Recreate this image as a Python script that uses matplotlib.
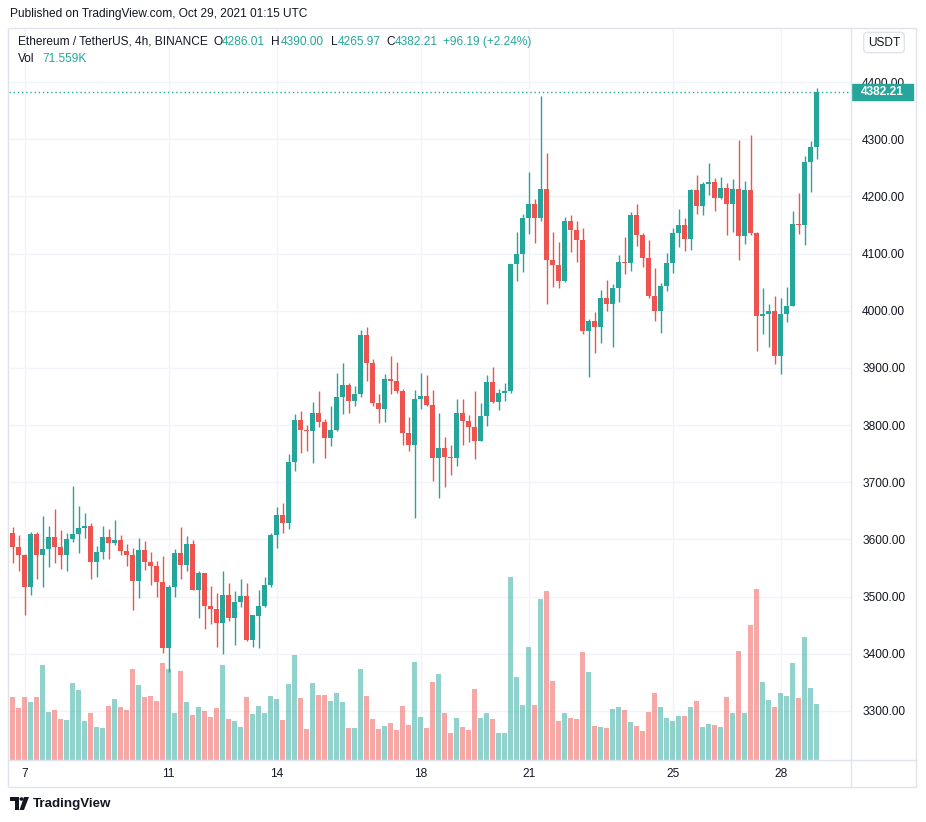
import numpy as np
import matplotlib
matplotlib.use('Agg')
import matplotlib.pyplot as plt
from matplotlib.patches import Rectangle, Polygon, Circle
from matplotlib.lines import Line2D
import matplotlib.transforms as mtransforms

plt.rcParams['font.family'] = ['Liberation Sans', 'DejaVu Sans']

# ---------------- data (ETH/USDT 4h, BINANCE) ----------------
opens = [3611, 3586, 3572, 3517, 3610, 3573, 3583, 3604, 3586, 3572, 3601, 3610, 3620, 3624, 3561, 3578,
         3604, 3594, 3599, 3580, 3572, 3528, 3582, 3561, 3554, 3526, 3411, 3517, 3576, 3556, 3592, 3512,
         3541, 3484, 3479, 3454, 3503, 3463, 3491, 3501, 3425, 3467, 3484, 3520, 3607, 3643, 3629, 3736,
         3809, 3791, 3790, 3822, 3805, 3778, 3791, 3850, 3870, 3843, 3854, 3958, 3908, 3838, 3829, 3880,
         3877, 3859, 3787, 3766, 3846, 3851, 3836, 3743, 3760, 3745, 3743, 3822, 3808, 3796, 3773, 3816,
         3876, 3841, 3857, 3860, 4081, 4100, 4162, 4187, 4162, 4213, 4089, 4080, 4052, 4157, 4141, 4124,
         3964, 3982, 3971, 4023, 4012, 4039, 4086, 4083, 4167, 4132, 4092, 4026, 3999, 4043, 4083, 4136,
         4150, 4125, 4211, 4184, 4222, 4225, 4198, 4215, 4187, 4213, 4131, 4211, 4136, 3991, 3994, 3999,
         3920, 3995, 4009, 4151, 4150, 4260, 4286.01]
highs = [3622, 3608, 3575, 3613, 3613, 3641, 3624, 3653, 3617, 3611, 3694, 3659, 3646, 3629, 3589, 3624,
         3618, 3634, 3608, 3592, 3585, 3603, 3597, 3578, 3562, 3571, 3520, 3583, 3622, 3606, 3599, 3545,
         3542, 3519, 3506, 3545, 3524, 3510, 3531, 3524, 3468, 3512, 3534, 3611, 3657, 3664, 3750, 3820,
         3825, 3800, 3841, 3860, 3810, 3834, 3892, 3909, 3874, 3869, 3967, 3972, 3916, 3855, 3890, 3920,
         3911, 3864, 3815, 3862, 3892, 3887, 3861, 3822, 3780, 3766, 3846, 3845, 3818, 3859, 3839, 3887,
         3901, 3863, 3873, 4082, 4137, 4170, 4243, 4196, 4375, 4276, 4137, 4120, 4164, 4167, 4157, 4144,
         3985, 3997, 4037, 4053, 4046, 4097, 4129, 4172, 4186, 4136, 4123, 4074, 4048, 4101, 4144, 4178,
         4162, 4213, 4237, 4225, 4258, 4232, 4234, 4223, 4230, 4298, 4227, 4308, 4138, 4039, 4011, 4025,
         4022, 4041, 4174, 4206, 4271, 4296, 4390.00]
lows = [3558, 3545, 3468, 3502, 3531, 3517, 3552, 3558, 3549, 3544, 3596, 3577, 3603, 3530, 3535, 3566,
        3566, 3591, 3573, 3554, 3477, 3498, 3547, 3521, 3500, 3402, 3369, 3500, 3530, 3545, 3512, 3463,
        3444, 3453, 3412, 3400, 3458, 3416, 3482, 3423, 3412, 3411, 3482, 3517, 3585, 3612, 3619, 3719,
        3752, 3754, 3733, 3796, 3743, 3764, 3789, 3820, 3822, 3833, 3850, 3877, 3833, 3803, 3805, 3854,
        3857, 3766, 3755, 3638, 3829, 3833, 3703, 3673, 3692, 3712, 3729, 3766, 3770, 3740, 3773, 3798,
        3839, 3826, 3843, 3857, 4052, 4067, 4134, 4118, 4157, 4012, 4041, 4040, 4050, 4103, 4085, 3959,
        3885, 3926, 3943, 3999, 3936, 4015, 4064, 4070, 4113, 4077, 4022, 3982, 3961, 4034, 4066, 4112,
        4105, 4106, 4170, 4168, 4202, 4175, 4196, 4133, 4138, 4089, 4117, 4133, 3929, 3959, 3936, 3906,
        3889, 3980, 4008, 4134, 4115, 4208, 4265.97]
closes = [3586, 3572, 3517, 3610, 3573, 3583, 3604, 3586, 3572, 3601, 3610, 3620, 3624, 3561, 3578, 3604,
          3594, 3599, 3580, 3572, 3528, 3582, 3561, 3554, 3526, 3411, 3517, 3576, 3556, 3592, 3512, 3541,
          3484, 3479, 3454, 3503, 3463, 3491, 3501, 3425, 3468, 3484, 3520, 3607, 3643, 3629, 3736, 3809,
          3791, 3790, 3822, 3805, 3778, 3792, 3850, 3871, 3843, 3855, 3958, 3908, 3838, 3829, 3880, 3877,
          3859, 3787, 3766, 3846, 3851, 3836, 3743, 3760, 3745, 3743, 3822, 3808, 3796, 3773, 3816, 3876,
          3841, 3857, 3860, 4081, 4100, 4162, 4187, 4162, 4213, 4089, 4080, 4052, 4157, 4141, 4124, 3964,
          3982, 3971, 4023, 4012, 4039, 4086, 4083, 4167, 4132, 4092, 4026, 3999, 4043, 4083, 4136, 4150,
          4125, 4211, 4184, 4222, 4225, 4198, 4215, 4187, 4213, 4131, 4211, 4136, 3991, 3994, 3999, 3920,
          3995, 4009, 4151, 4150, 4260, 4286.02, 4382.21]
volumes_k = [80.5, 66.5, 80.5, 74.1, 80.5, 121.4, 61.3, 63.9, 52.4, 51.1, 98.4, 89.5, 49.8, 60.1, 42.2, 40.9,
             69.0, 78.0, 67.7, 63.9, 116.3, 95.9, 80.5, 81.8, 75.4, 124.0, 116.3, 60.1, 113.7, 74.1, 57.5, 67.7,
             62.6, 55.0, 66.5, 121.4, 52.4, 49.8, 42.2, 80.5, 58.8, 69.0, 60.1, 81.8, 78.0, 51.1, 97.1, 134.2,
             79.2, 39.6, 98.4, 83.1, 83.1, 75.4, 85.6, 74.1, 40.9, 40.9, 116.3, 81.8, 52.4, 39.6, 43.5, 47.3,
             38.3, 69.0, 44.7, 125.2, 55.0, 40.9, 99.7, 109.9, 60.1, 34.5, 53.7, 42.2, 38.3, 90.7, 53.7, 60.1,
             52.4, 34.5, 34.5, 233.9, 106.1, 70.3, 144.4, 70.3, 205.8, 216.0, 101.0, 49.8, 60.1, 53.7, 52.4, 138.0,
             112.5, 43.5, 42.2, 40.9, 65.2, 67.7, 63.9, 48.6, 43.5, 37.1, 61.3, 85.6, 67.7, 53.7, 49.8, 56.2,
             56.2, 67.7, 75.4, 42.2, 46.0, 44.7, 42.2, 80.5, 60.1, 139.3, 60.1, 172.5, 218.5, 99.7, 76.7, 67.7,
             85.6, 81.8, 124.0, 79.2, 157.2, 92.0, 71.559]
# first candle opens Oct 6 16:00 UTC; 6 candles per day
tick_days = [7, 11, 14, 18, 21, 25, 28]
tick_labels = ["7", "11", "14", "18", "21", "25", "28"]
price_ticks = [3300, 3400, 3500, 3600, 3700, 3800, 3900, 4000, 4100, 4200, 4300, 4400]

# ---------------- style ----------------
GREEN = '#26a69a'
RED = '#ef5350'
GREEN_V = (38/255, 166/255, 154/255, 0.5)
RED_V = (239/255, 83/255, 80/255, 0.5)
TXT = '#131722'
GRID = '#f0f3fa'
FRAME = '#e0e3eb'
FS = 8.6

W, H = 926, 822
fig = plt.figure(figsize=(W / 100, H / 100), dpi=100)
fig.patch.set_facecolor('white')


def fx(px):
    return px / W


def fy(py):
    return 1 - py / H


PL, PR, PT, PB = 9, 851, 28, 760
rect = [fx(PL), fy(PB), (PR - PL) / W, (PB - PT) / H]
ax_bg = fig.add_axes(rect)
ax_vol = fig.add_axes(rect)
ax_c = fig.add_axes(rect)

o = np.array(opens, float)
h = np.array(highs, float)
l = np.array(lows, float)
c = np.array(closes, float)
v = np.array(volumes_k, float)
x = np.arange(len(o))
up = c >= o

XLIM = (-0.62, 139.72)
YLIM = (3214.3, 4494.5)
for a in (ax_bg, ax_vol, ax_c):
    a.set_xlim(*XLIM)
    for s in a.spines.values():
        s.set_visible(False)
ax_bg.set_ylim(*YLIM)
ax_c.set_ylim(*YLIM)
ax_vol.set_ylim(0, 935)
ax_vol.patch.set_visible(False)
ax_c.patch.set_visible(False)
ax_vol.set_xticks([]); ax_vol.set_yticks([])
ax_c.set_xticks([]); ax_c.set_yticks([])

# background grid + axes labels
tick_idx = [(d - 7) * 6 + 2 for d in tick_days]
ax_bg.set_xticks(tick_idx)
ax_bg.set_xticklabels(tick_labels)
ax_bg.yaxis.tick_right()
ax_bg.set_yticks(price_ticks)
ax_bg.set_yticklabels([f"{p:.2f}" for p in price_ticks])
ax_bg.tick_params(axis='y', length=0, pad=8, labelsize=FS, colors=TXT)
ax_bg.tick_params(axis='x', length=0, pad=5.5, labelsize=FS, colors=TXT)
ax_bg.grid(True, color=GRID, lw=1)

# volume
ax_vol.bar(x, v, width=0.8, color=[GREEN_V if u else RED_V for u in up], linewidth=0)

# candles
cols = [GREEN if u else RED for u in up]
ax_c.vlines(x, l, h, colors=cols, lw=1.0, zorder=2)
body_lo = np.minimum(o, c)
body_h = np.maximum(np.abs(c - o), 1.8)
ax_c.bar(x, body_h, bottom=body_lo, width=0.78, color=cols, linewidth=0, zorder=3)

# last price line and label
last = c[-1]
ax_c.axhline(last, color=GREEN, lw=1.0, linestyle=(0, (1, 2)), zorder=1)
trans = mtransforms.blended_transform_factory(ax_c.transAxes, ax_c.transData)
ax_c.add_patch(Rectangle((1.0 + 1 / 842, last - 14.5), 61 / 842, 29, transform=trans,
                         facecolor=GREEN, edgecolor=GREEN, clip_on=False, zorder=10))
ax_c.text(1.0 + 31.5 / 842, last, f"{last:.2f}", transform=trans, ha='center', va='center',
          color='white', fontsize=FS, fontweight='bold', clip_on=False, zorder=11)

# frame lines
fig.add_artist(Rectangle((fx(8), fy(787)), (916 - 8) / W, (787 - 28) / H, transform=fig.transFigure,
                         fill=False, edgecolor=FRAME, lw=1))
fig.add_artist(Line2D([fx(851), fx(851)], [fy(28), fy(787)], color=FRAME, lw=1))
fig.add_artist(Line2D([fx(8), fx(916)], [fy(760), fy(760)], color=FRAME, lw=1))

# header texts
fig.text(fx(10), fy(14), "Published on TradingView.com, Oct 29, 2021 01:15 UTC", ha='left', va='center',
         fontsize=FS, color=TXT)
ly = fy(42)
chg = c[-1] - c[-2]
pct = chg / c[-2] * 100
fig.text(fx(18), ly, "Ethereum / TetherUS, 4h, BINANCE", ha='left', va='center', fontsize=FS, color=TXT)
fig.text(fx(213), ly, "O", ha='left', va='center', fontsize=FS, color=TXT)
fig.text(fx(222), ly, f"{o[-1]:.2f}", ha='left', va='center', fontsize=FS, color=GREEN)
fig.text(fx(271), ly, "H", ha='left', va='center', fontsize=FS, color=TXT)
fig.text(fx(281), ly, f"{h[-1]:.2f}", ha='left', va='center', fontsize=FS, color=GREEN)
fig.text(fx(331), ly, "L", ha='left', va='center', fontsize=FS, color=TXT)
fig.text(fx(338), ly, f"{l[-1]:.2f}", ha='left', va='center', fontsize=FS, color=GREEN)
fig.text(fx(386), ly, "C", ha='left', va='center', fontsize=FS, color=TXT)
fig.text(fx(395), ly, f"{c[-1]:.2f}", ha='left', va='center', fontsize=FS, color=GREEN)
fig.text(fx(443), ly, f"{chg:+.2f} ({pct:+.2f}%)", ha='left', va='center', fontsize=FS, color=GREEN)
fig.text(fx(18), fy(59), "Vol", ha='left', va='center', fontsize=FS, color=TXT)
fig.text(fx(42), fy(59), f"{v[-1]:.3f}K", ha='left', va='center', fontsize=FS, color=GREEN)

# currency box
fig.text(fx(884), fy(42.5), "USDT", ha='center', va='center', fontsize=FS, color=TXT,
         bbox=dict(boxstyle='round,pad=0.35,rounding_size=0.3', fc='white', ec=FRAME, lw=1))

# footer logo
fig.add_artist(Polygon([[fx(10), fy(797)], [fx(19), fy(797)], [fx(19), fy(810)], [fx(15), fy(810)],
                        [fx(15), fy(801)], [fx(10), fy(801)]], closed=True, transform=fig.transFigure,
                       facecolor=TXT, edgecolor='none'))
fig.add_artist(Circle((fx(21.5), fy(799)), 2.0 / W, transform=fig.transFigure, facecolor=TXT, edgecolor='none'))
fig.add_artist(Polygon([[fx(24), fy(797)], [fx(29), fy(797)], [fx(24), fy(810)], [fx(19.5), fy(810)]],
                       closed=True, transform=fig.transFigure, facecolor=TXT, edgecolor='none'))
fig.text(fx(33), fy(803.5), "TradingView", ha='left', va='center', fontsize=9.6, fontweight='bold', color=TXT)

fig.savefig('out.png', dpi=100, facecolor='white')
